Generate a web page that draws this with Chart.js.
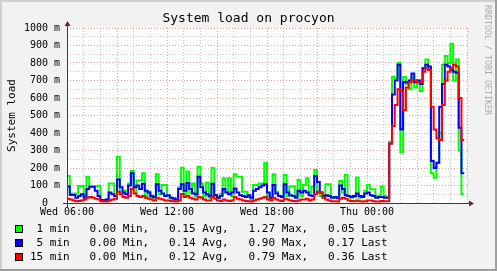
<!DOCTYPE html>
<html>
<head>
<meta charset="utf-8">
<title>System load on procyon</title>
<script src="https://cdn.jsdelivr.net/npm/chart.js@4.4.0/dist/chart.umd.min.js"></script>
<style>
  html, body { margin: 0; padding: 0; background: #f2f2f2; }
  canvas { display: block; }
</style>
</head>
<body>
<canvas id="chartLoad" width="497" height="271"></canvas>
<script>
// --- Data: load in milli units, one value every 10 minutes from Wed 06:00 ---
const STEP_HOURS = 10 / 60;

const load1 = [
  155, 55, 55, 55, 97, 97, 40, 150, 95, 95,
  95, 98, 15, 15, 20, 112, 112, 40, 265, 50,
  70, 70, 112, 183, 60, 128, 128, 170, 40, 65,
  30, 30, 164, 50, 103, 103, 40, 30, 30, 20,
  88, 202, 50, 180, 60, 112, 40, 207, 112, 40,
  116, 30, 200, 45, 30, 50, 141, 60, 141, 40,
  164, 150, 150, 65, 65, 35, 20, 103, 103, 112,
  112, 230, 40, 25, 164, 65, 40, 40, 160, 40,
  94, 94, 40, 131, 40, 103, 141, 60, 95, 188,
  60, 40, 30, 107, 107, 35, 30, 25, 126, 60,
  160, 40, 30, 35, 146, 30, 40, 70, 103, 78,
  78, 30, 40, 94, 40, 30, 350, 720, 710, 800,
  290, 720, 680, 650, 720, 660, 700, 640, 770, 820,
  770, 170, 145, 230, 400, 790, 840, 800, 910, 700,
  820, 300, 50
];

const load5 = [
  94, 46, 46, 30, 40, 50, 30, 80, 93, 93,
  70, 40, 17, 17, 20, 60, 50, 40, 135, 90,
  60, 50, 100, 170, 90, 100, 80, 110, 70, 60,
  40, 35, 107, 70, 55, 40, 45, 30, 25, 20,
  80, 107, 70, 115, 80, 55, 50, 150, 90, 60,
  50, 40, 110, 45, 30, 40, 80, 60, 50, 60,
  83, 60, 45, 40, 35, 45, 30, 70, 80, 90,
  100, 107, 60, 30, 103, 55, 40, 35, 107, 60,
  45, 40, 30, 70, 60, 70, 60, 45, 40, 155,
  120, 60, 40, 45, 40, 30, 35, 30, 100, 80,
  45, 40, 35, 40, 55, 40, 35, 55, 60, 45,
  40, 30, 35, 35, 30, 30, 340, 620, 700, 790,
  420, 690, 690, 700, 740, 690, 700, 680, 770, 790,
  780, 240, 200, 230, 550, 680, 790, 780, 760, 750,
  745, 430, 170
];

const load15 = [
  25, 20, 15, 10, 12, 15, 20, 30, 35, 30,
  25, 20, 10, 8, 8, 15, 20, 25, 65, 50,
  35, 30, 40, 80, 55, 40, 35, 40, 30, 25,
  20, 15, 30, 25, 20, 15, 15, 12, 10, 8,
  15, 52, 35, 40, 30, 25, 20, 35, 30, 20,
  15, 15, 35, 25, 15, 12, 20, 15, 12, 15,
  35, 25, 20, 15, 12, 10, 8, 15, 20, 25,
  30, 35, 20, 15, 30, 20, 15, 12, 25, 20,
  15, 12, 10, 15, 20, 20, 25, 15, 20, 50,
  65, 60, 30, 20, 15, 10, 10, 8, 25, 30,
  25, 15, 12, 10, 15, 10, 8, 10, 15, 15,
  10, 8, 8, 12, 10, 10, 340, 440, 560, 650,
  640, 530, 660, 690, 700, 700, 690, 690, 750, 770,
  760, 550, 420, 370, 360, 560, 700, 750, 770, 790,
  780, 600, 360
];

// --- Axis labels ---
const xLabelHours = [0, 6, 12, 18];
const xLabels = ['Wed 06:00', 'Wed 12:00', 'Wed 18:00', 'Thu 00:00'];
const yTickValues = [0, 100, 200, 300, 400, 500, 600, 700, 800, 900, 1000];
const yTickLabels = ['0  ', '100 m', '200 m', '300 m', '400 m', '500 m', '600 m', '700 m', '800 m', '900 m', '1000 m'];

// --- Legend (rrdtool GPRINT lines) ---
const seriesNames = ['1 min', '5 min', '15 min'];
const seriesColors = ['#00ff00', '#0000ff', '#ff0000'];
const statMin = ['0.00', '0.00', '0.00'];
const statAvg = ['0.15', '0.14', '0.12'];
const statMax = ['1.27', '0.90', '0.79'];
const statLast = ['0.05', '0.17', '0.36'];

const TITLE = 'System load on procyon';
const Y_TITLE = 'System load';
const WATERMARK = 'RRDTOOL / TOBI OETIKER';

// --- Style ---
const MONO = '"DejaVu Sans Mono", monospace';
const GRID = 'rgba(143, 143, 143, 0.5)';
const MGRID = 'rgba(222, 79, 79, 0.55)';
const AXIS = '#3a3a3a';
const ARROW = '#801f1f';

const el = (id) => document.getElementById(id);

const toPoints = (values) => {
  const pts = values.map((v, i) => ({ x: i * STEP_HOURS, y: v }));
  pts.push({ x: values.length * STEP_HOURS, y: values[values.length - 1] });
  return pts;
};

const isMultiple = (v, every) => Math.abs(v % every) < 1e-6;

// background, frame, axes and texts drawn around the chart area
const rrdFrame = {
  id: 'rrdFrame',
  beforeDraw(chart) {
    const { ctx, width, height, chartArea: a } = chart;
    ctx.save();
    ctx.fillStyle = '#f2f2f2';
    ctx.fillRect(0, 0, width, height);
    ctx.fillStyle = '#cfcfcf';
    ctx.fillRect(0, 0, width, 2);
    ctx.fillRect(0, 0, 2, height);
    ctx.fillStyle = '#9e9e9e';
    ctx.fillRect(0, height - 2, width, 2);
    ctx.fillRect(width - 2, 0, 2, height);
    ctx.fillStyle = '#ffffff';
    ctx.fillRect(a.left, a.top, a.right - a.left, a.bottom - a.top);
    ctx.restore();
  },
  afterDraw(chart) {
    const { ctx, width, chartArea: a } = chart;
    ctx.save();

    // axes
    ctx.strokeStyle = AXIS;
    ctx.lineWidth = 1;
    ctx.beginPath();
    ctx.moveTo(a.left - 4, a.bottom + 0.5);
    ctx.lineTo(a.right + 4, a.bottom + 0.5);
    ctx.moveTo(a.left + 0.5, a.bottom + 4);
    ctx.lineTo(a.left + 0.5, a.top - 4);
    ctx.stroke();

    // arrows
    ctx.fillStyle = ARROW;
    ctx.beginPath();
    ctx.moveTo(a.right + 2, a.bottom - 2.5);
    ctx.lineTo(a.right + 2, a.bottom + 3.5);
    ctx.lineTo(a.right + 7, a.bottom + 0.5);
    ctx.closePath();
    ctx.fill();
    ctx.beginPath();
    ctx.moveTo(a.left - 2.5, a.top - 2);
    ctx.lineTo(a.left + 3.5, a.top - 2);
    ctx.lineTo(a.left + 0.5, a.top - 7);
    ctx.closePath();
    ctx.fill();

    // title
    ctx.fillStyle = '#000';
    ctx.font = `13px ${MONO}`;
    ctx.textAlign = 'center';
    ctx.textBaseline = 'middle';
    ctx.fillText(TITLE, width / 2, 19);

    // vertical label
    ctx.save();
    ctx.font = `11px ${MONO}`;
    ctx.translate(12, (a.top + a.bottom) / 2);
    ctx.rotate(-Math.PI / 2);
    ctx.fillText(Y_TITLE, 0, 0);
    ctx.restore();

    // watermark
    ctx.save();
    ctx.font = `8.3px ${MONO}`;
    ctx.fillStyle = '#ababab';
    ctx.textAlign = 'left';
    ctx.translate(487, 5);
    ctx.rotate(Math.PI / 2);
    ctx.fillText(WATERMARK, 0, 0);
    ctx.restore();

    // legend
    ctx.font = `11px ${MONO}`;
    ctx.textAlign = 'left';
    ctx.textBaseline = 'middle';
    seriesNames.forEach((name, k) => {
      const y = 229 + k * 14;
      ctx.fillStyle = seriesColors[k];
      ctx.fillRect(15, y - 4, 8, 8);
      ctx.strokeStyle = '#000';
      ctx.strokeRect(15.5, y - 3.5, 7, 7);
      ctx.fillStyle = '#000';
      const line = `${name.padStart(6)}   ${statMin[k]} Min,   ${statAvg[k]} Avg,   ${statMax[k]} Max,   ${statLast[k]} Last`;
      ctx.fillText(line, 30, y + 0.5);
    });

    ctx.restore();
  }
};

const lineSet = (label, values, color, order) => ({
  label,
  data: toPoints(values),
  borderColor: color,
  backgroundColor: color,
  borderWidth: 2,
  pointRadius: 0,
  stepped: true,
  fill: false,
  tension: 0,
  borderJoinStyle: 'miter',
  order,
});

const chartLoad = new Chart(el('chartLoad').getContext('2d'), {
  type: 'line',
  data: {
    datasets: [
      lineSet(seriesNames[0], load1, seriesColors[0], 3),
      lineSet(seriesNames[1], load5, seriesColors[1], 2),
      lineSet(seriesNames[2], load15, seriesColors[2], 1),
    ],
  },
  options: {
    responsive: false,
    animation: false,
    devicePixelRatio: 1,
    events: [],
    layout: { padding: { top: 28, right: 30, bottom: 0, left: 0 } },
    plugins: { legend: { display: false }, tooltip: { enabled: false } },
    scales: {
      x: {
        type: 'linear',
        min: 0,
        max: 24,
        afterFit: (s) => { s.height = 68; },
        ticks: {
          stepSize: 1,
          autoSkip: false,
          maxRotation: 0,
          minRotation: 0,
          padding: 3,
          color: '#000',
          font: { family: MONO, size: 10 },
          callback: (v) => {
            const k = xLabelHours.indexOf(v);
            return k >= 0 ? xLabels[k] : '';
          },
        },
        grid: {
          drawTicks: false,
          lineWidth: 1,
          color: (c) => (isMultiple(c.tick.value, 3) ? MGRID : GRID),
        },
        border: { display: false, dash: [1, 2] },
      },
      y: {
        min: 0,
        max: 1000,
        afterFit: (s) => { s.width = 67; },
        ticks: {
          stepSize: 50,
          autoSkip: false,
          padding: 7,
          color: '#000',
          font: { family: MONO, size: 10 },
          callback: (v) => {
            const k = yTickValues.indexOf(v);
            return k >= 0 ? yTickLabels[k] : '';
          },
        },
        grid: {
          drawTicks: false,
          lineWidth: 1,
          color: (c) => (isMultiple(c.tick.value, 100) ? MGRID : GRID),
        },
        border: { display: false, dash: [1, 2] },
      },
    },
  },
  plugins: [rrdFrame],
});
</script>
</body>
</html>
